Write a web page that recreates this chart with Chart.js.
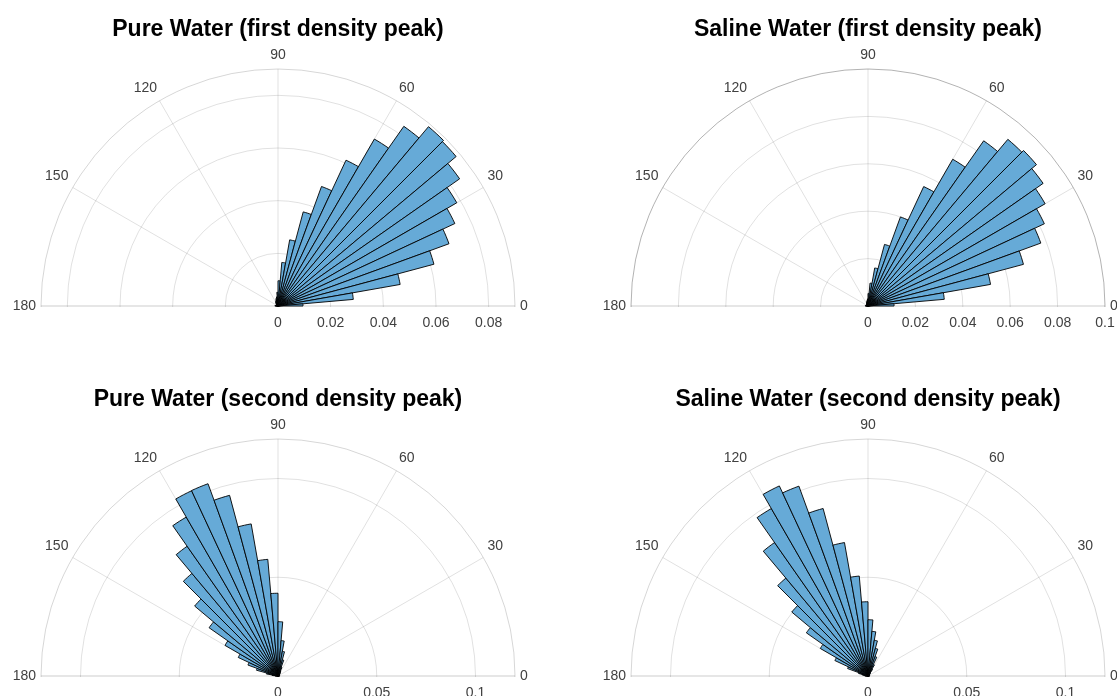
<!DOCTYPE html>
<html lang="en">
<head>
<meta charset="UTF-8">
<title>Polar histograms</title>
<script src="https://cdn.jsdelivr.net/npm/chart.js"></script>
<style>
    html, body { margin: 0; padding: 0; background: #fff; }
    body {
        width: 1117px; height: 696px; overflow: hidden; position: relative;
        font-family: "Liberation Sans", Arial, Helvetica, sans-serif;
    }
    canvas { position: absolute; }
    .title {
        position: absolute; width: 560px; text-align: center;
        font-weight: bold; font-size: 23px; line-height: 23px; color: #000; z-index: 2;
    }
</style>
</head>
<body>
<div class="title" style="left:-2px; top:17px">Pure Water (first density peak)</div>
<div class="title" style="left:588px; top:17px">Saline Water (first density peak)</div>
<div class="title" style="left:-2px; top:387px">Pure Water (second density peak)</div>
<div class="title" style="left:588px; top:387px">Saline Water (second density peak)</div>

<canvas id="pureFirst" width="554" height="554" style="left:1px; top:29px"></canvas>
<canvas id="salineFirst" width="554" height="554" style="left:591px; top:29px"></canvas>
<canvas id="pureSecond" width="554" height="554" style="left:1px; top:399px"></canvas>
<canvas id="salineSecond" width="554" height="554" style="left:591px; top:399px"></canvas>

<script>
    // start angle of each 5 degree bin (upper half plane)
    const binStart = [0, 5, 10, 15, 20, 25, 30, 35, 40, 45, 50, 55, 60, 65, 70, 75, 80, 85,
                      90, 95, 100, 105, 110, 115, 120, 125, 130, 135, 140, 145, 150, 155, 160, 165, 170, 175];

    // probability per bin (0 -> 180 deg)
    const pureFirst = [0.0095, 0.0287, 0.0471, 0.0613, 0.0691, 0.0741, 0.0784, 0.0842, 0.0883, 0.0889, 0.0833, 0.0732,
                       0.0611, 0.0483, 0.0370, 0.0255, 0.0166, 0.0096, 0.0052, 0.0035, 0.0030, 0.0025, 0.0020, 0.0018,
                       0.0015, 0.0012, 0.0010, 0.0009, 0.0008, 0.0007, 0.0007, 0.0007, 0.0008, 0.0009, 0.0010, 0.0012];
    const salineFirst = [0.0110, 0.0323, 0.0525, 0.0679, 0.0776, 0.0821, 0.0863, 0.0902, 0.0928, 0.0918, 0.0851, 0.0715,
                         0.0556, 0.0400, 0.0269, 0.0163, 0.0097, 0.0053, 0.0030, 0.0025, 0.0020, 0.0017, 0.0014, 0.0012,
                         0.0010, 0.0009, 0.0008, 0.0007, 0.0007, 0.0006, 0.0006, 0.0007, 0.0008, 0.0009, 0.0010, 0.0012];
    const pureSecond = [0.0008, 0.0008, 0.0008, 0.0008, 0.0009, 0.0010, 0.0010, 0.0011, 0.0012, 0.0014, 0.0017, 0.0022,
                        0.0030, 0.0048, 0.0085, 0.0127, 0.0180, 0.0275, 0.0419, 0.0593, 0.0782, 0.0947, 0.1036, 0.1035,
                        0.0929, 0.0802, 0.0678, 0.0551, 0.0426, 0.0310, 0.0222, 0.0162, 0.0113, 0.0060, 0.0030, 0.0015];
    const salineSecond = [0.0008, 0.0008, 0.0008, 0.0008, 0.0009, 0.0010, 0.0010, 0.0011, 0.0013, 0.0015, 0.0020, 0.0040,
                          0.0065, 0.0105, 0.0145, 0.0184, 0.0227, 0.0285, 0.0376, 0.0508, 0.0686, 0.0878, 0.1023, 0.1062,
                          0.0979, 0.0825, 0.0647, 0.0504, 0.0381, 0.0279, 0.0185, 0.0110, 0.0050, 0.0030, 0.0020, 0.0015];

    // theta tick labels, clockwise from the left (180) like the radial scale counts them
    const thetaLabels = ['180', '150', '120', '90', '60', '30', '0', '', '', '', '', ''];
    const rTicksPureFirst = [0, 0.02, 0.04, 0.06, 0.08];
    const rTicksSalineFirst = [0, 0.02, 0.04, 0.06, 0.08, 0.1];
    const rTicksSecond = [0, 0.05, 0.1];

    const barFill = '#66aad7';
    const gridColor = 'rgba(0,0,0,0.12)';
    const labelColor = '#404040';

    // clip everything to the upper half and draw the labels like matlab does
    const halfPolar = {
        id: 'halfPolar',
        beforeDraw(chart) {
            const r = chart.scales.r;
            const ctx = chart.ctx;
            ctx.save();
            ctx.beginPath();
            ctx.rect(0, 0, chart.width, r.yCenter + 1);
            ctx.clip();
        },
        afterDraw(chart, args, opts) {
            const r = chart.scales.r;
            const ctx = chart.ctx;
            ctx.restore();
            ctx.save();
            ctx.fillStyle = labelColor;
            ctx.font = '14px "Liberation Sans", Arial, sans-serif';
            ctx.textBaseline = 'middle';
            const h = 14 * 1.2;
            chart.data.labels.forEach((lab, i) => {
                if (!lab) return;
                const deg = Number(lab);
                const p = r.getPointPosition(i, r.drawingArea + 5);
                ctx.textAlign = deg === 90 ? 'center' : (deg < 90 ? 'left' : 'right');
                const y = (deg === 0 || deg === 180) ? p.y : p.y - h / 2;
                ctx.fillText(lab, p.x, y);
            });
            ctx.textAlign = 'center';
            opts.ticks.forEach(v => {
                const x = r.xCenter + r.getDistanceFromCenterForValue(v);
                ctx.fillText(String(v), x, r.yCenter + 17);
            });
            ctx.restore();
        }
    };

    function makePolar(id, values, rMax, rStep, rTicks, edgeColor) {
        const binWidth = binStart[1] - binStart[0];
        return new Chart(document.getElementById(id), {
            type: 'polarArea',
            data: {
                labels: thetaLabels,
                datasets: [{
                    // arcs run clockwise from 180 deg, so feed them from 180 down to 0
                    data: values.slice().reverse(),
                    angle: binWidth,
                    backgroundColor: barFill,
                    borderColor: '#000',
                    borderWidth: 0.9
                }]
            },
            options: {
                responsive: false,
                animation: false,
                layout: { padding: 40 },
                elements: { arc: { angle: binWidth } },
                plugins: {
                    legend: { display: false },
                    tooltip: { enabled: false },
                    halfPolar: { ticks: rTicks }
                },
                scales: {
                    r: {
                        startAngle: -90,
                        min: 0,
                        max: rMax,
                        ticks: { display: false, stepSize: rStep },
                        grid: {
                            circular: true,
                            lineWidth: 1,
                            color: c => (c.tick && Math.abs(c.tick.value - rMax) < 1e-9) ? edgeColor : gridColor
                        },
                        angleLines: {
                            display: true,
                            lineWidth: 1,
                            color: c => (c.index === 0 || c.index === 6) ? 'rgba(0,0,0,0.2)' : gridColor
                        },
                        pointLabels: { display: false }
                    }
                }
            },
            plugins: [halfPolar]
        });
    }

    makePolar('pureFirst', pureFirst, 0.09, 0.02, rTicksPureFirst, 'rgba(0,0,0,0.16)');
    makePolar('salineFirst', salineFirst, 0.1, 0.02, rTicksSalineFirst, 'rgba(0,0,0,0.3)');
    makePolar('pureSecond', pureSecond, 0.12, 0.05, rTicksSecond, 'rgba(0,0,0,0.16)');
    makePolar('salineSecond', salineSecond, 0.12, 0.05, rTicksSecond, 'rgba(0,0,0,0.16)');
</script>
</body>
</html>
